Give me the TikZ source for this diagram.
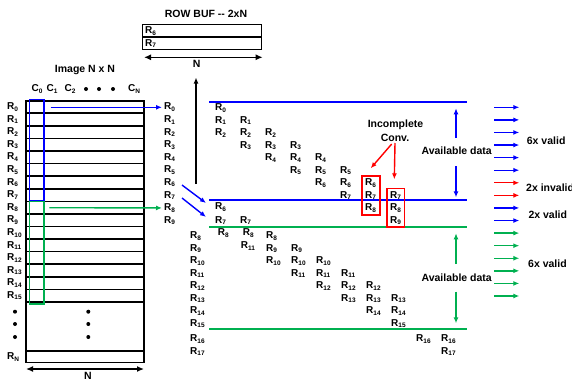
\documentclass[tikz,border=0pt]{standalone}
\usepackage{fontspec}
\setmainfont{Liberation Sans}
\usetikzlibrary{arrows.meta}
\definecolor{myblue}{RGB}{0,0,255}
\definecolor{mygreen}{RGB}{0,176,80}
\definecolor{myred}{RGB}{255,0,0}
\newcommand\RR[1]{R\raisebox{-1.6pt}{\fontsize{6.5}{6.5}\selectfont #1}}
\begin{document}
\begin{tikzpicture}[x=1pt,y=-1pt,font=\fontsize{10}{12}\selectfont\bfseries,
  lab/.style={anchor=west,inner sep=0pt},
  txt/.style={inner sep=0pt,font=\fontsize{10.5}{12}\selectfont\bfseries},
  tip/.style={-{Latex[length=6pt,width=5pt]}},
  dbl/.style={{Latex[length=7pt,width=6pt]}-{Latex[length=7pt,width=6pt]}},
  gridline/.style={line width=1.6pt},
  colline/.style={line width=2pt},
  dotm/.style={circle,fill=black,inner sep=0pt,minimum size=4pt}]
\useasboundingbox (0,0) rectangle (572,380);
% --- image grid
\draw[gridline] (26,100.7) rectangle (144,362.3);
\foreach \k in {1,...,16} \draw[gridline] (26,{100.7+12.58*\k}) -- (144,{100.7+12.58*\k});
\draw[gridline] (26,350.7) -- (144,350.7);
\foreach \k in {0,...,15} \node[lab] (L\k) at (7,{100.7+12.58*(\k+0.5)}) {\RR{\k}};
\node[lab] (LN) at (7,357) {\RR{N}};
\foreach \y [count=\i] in {311.7,324,337} {
  \node[dotm] (dl\i) at (15,\y) {};
  \node[dotm] (dm\i) at (88.3,\y) {};
}
\node[txt] (imgt) at (85,70) {Image N x N};
\node (c0) at (37,89) {C\raisebox{-1.6pt}{\fontsize{6.5}{6.5}\selectfont 0}};
\node (c1) at (52,89) {C\raisebox{-1.6pt}{\fontsize{6.5}{6.5}\selectfont 1}};
\node (c2) at (70,89) {C\raisebox{-1.6pt}{\fontsize{6.5}{6.5}\selectfont 2}};
\node[dotm] (cd1) at (86,89) {};
\node[dotm] (cd2) at (99,89) {};
\node[dotm] (cd3) at (113,89) {};
\node (cn) at (134,89) {C\raisebox{-1.6pt}{\fontsize{6.5}{6.5}\selectfont N}};
\draw[myblue,line width=1.6pt] (29.3,99.3) rectangle (43.7,200.5);
\draw[mygreen,line width=1.6pt] (29.3,201.5) rectangle (43.7,304);
% N arrow under image
\coordinate (ia) at (26,369);
\coordinate (ib) at (144,369);
\draw[dbl,line width=1.3pt] (ia) -- (ib);
\node[txt] (in) at (88,375.5) {N};
% --- right label column
\foreach \k in {0,...,9} \node[lab] (M\k) at (164,{107.3+12.58*\k}) {\RR{\k}};
\coordinate (bs) at (50.7,107.3);
\coordinate (gs) at (49.3,207.7);
\draw[tip,myblue,line width=1.4pt] (bs) -- ([xshift=-2pt]M0.west);
\draw[tip,mygreen,line width=1.4pt] (gs) -- ([xshift=-2pt]M8.west);
% --- row buffer
\node[txt] (buft) at (206,14) {ROW BUF {-}{-} 2xN};
\draw[line width=1.4pt] (142.7,24.3) rectangle (261.7,49.3);
\draw[line width=1.4pt] (142.7,37) -- (261.7,37);
\node[lab] (b6) at (145,31) {\RR{6}};
\node[lab] (b7) at (145,43.5) {\RR{7}};
\coordinate (ba) at (144,57.3);
\coordinate (bb) at (262.7,57.3);
\draw[dbl,line width=1.3pt] (ba) -- (bb);
\node[txt] (bn) at (196.7,64) {N};
\coordinate (vs) at (196,184);
\coordinate (ve) at (196,77.5);
\draw[tip,line width=1.6pt] (vs) -- (ve);
% --- diagonal arrows
\coordinate (d1s) at (182,185);
\coordinate (d1e) at (206,203);
\coordinate (d2s) at (182,198);
\coordinate (d2e) at (206,217);
\draw[tip,myblue,line width=1.4pt] (d1s) -- (d1e);
\draw[tip,myblue,line width=1.4pt] (d2s) -- (d2e);
% --- horizontal lines
\coordinate (h1a) at (209.3,101.7); \coordinate (h1b) at (467.3,101.7);
\coordinate (h2a) at (209.3,200); \coordinate (h2b) at (467.3,200);
\coordinate (h3a) at (209.3,226.7); \coordinate (h3b) at (467.3,226.7);
\coordinate (h4a) at (209.3,329.3); \coordinate (h4b) at (467.3,329.3);
\draw[colline,myblue] (h1a) -- (h1b);
\draw[colline,myblue] (h2a) -- (h2b);
\draw[colline,mygreen] (h3a) -- (h3b);
\draw[colline,mygreen] (h4a) -- (h4b);
% --- top triangle
\foreach \c in {1,...,8} {
  \foreach \d in {-1,0,1} {
    \pgfmathtruncatemacro{\r}{\c+\d}
    \node[lab] (T\c-\r) at ({215+25*(\c-1)},{108+12.5*\r}) {\RR{\r}};
  }
}
\draw[myred,line width=1.6pt] (361.7,176) rectangle (380,215);
\draw[myred,line width=1.6pt] (386.7,188.3) rectangle (404.3,226.7);
\node[lab] (x6) at (215,207) {\RR{6}};
\node[lab] (x7) at (215,220.7) {\RR{7}};
\node[lab] (x7b) at (240,220.7) {\RR{7}};
% --- second triangle
\foreach \r in {8,...,15} \node[lab] (S0-\r) at (190,{236+12.5*(\r-8)}) {\RR{\r}};
\node[lab] (S0-16) at (190,339) {\RR{16}};
\node[lab] (S0-17) at (190,351.5) {\RR{17}};
\node[lab] (y8a) at (217.7,233.3) {\RR{8}};
\node[lab] (y8b) at (242.7,233.3) {\RR{8}};
\node[lab] (y11) at (240.7,246) {\RR{11}};
\foreach \c in {3,...,8} {
  \foreach \d in {5,6,7} {
    \pgfmathtruncatemacro{\r}{\c+\d}
    \node[lab] (S\c-\r) at ({266+25*(\c-3)},{236+12.5*(\r-8)}) {\RR{\r}};
  }
}
\node[lab] (S9-16) at (416,339) {\RR{16}};
\node[lab] (S10-16) at (441,339) {\RR{16}};
\node[lab] (S10-17) at (441,351.5) {\RR{17}};
% --- incomplete conv
\node[txt] (inc) at (395.5,125) {Incomplete};
\node[txt] (conv) at (395,138.3) {Conv.};
\coordinate (r1s) at (391.7,144);
\coordinate (r2s) at (395,143);
\coordinate (r1e) at (370.7,168.3);
\coordinate (r2e) at (394.3,179.3);
\draw[tip,myred,line width=1.4pt] (r1s) -- (r1e);
\draw[tip,myred,line width=1.4pt] (r2s) -- (r2e);
% --- available data
\node[txt] (av1) at (456.7,151) {Available data};
\node[txt] (av2) at (456.7,277.3) {Available data};
\coordinate (a1t) at (456,108.3); \coordinate (a1b) at (456,197.3);
\coordinate (a2t) at (456,233.3); \coordinate (a2b) at (456,323.3);
\coordinate (a1m) at (456,138); \coordinate (a1n) at (456,166);
\coordinate (a2m) at (456,264); \coordinate (a2n) at (456,291.7);
\draw[tip,myblue,line width=1.4pt] (a1m) -- (a1t);
\draw[tip,myblue,line width=1.4pt] (a1n) -- (a1b);
\draw[tip,mygreen,line width=1.4pt] (a2m) -- (a2t);
\draw[tip,mygreen,line width=1.4pt] (a2n) -- (a2b);
% --- output arrows
\foreach \k/\col in {0/myblue,1/myblue,2/myblue,3/myblue,4/myblue,5/myblue,6/myred,7/myred,8/myblue,9/myblue,10/mygreen,11/mygreen,12/mygreen,13/mygreen,14/mygreen,15/mygreen} {
  \coordinate (oa\k) at (494.3,{107.3+12.58*\k});
  \coordinate (ob\k) at (519.3,{107.3+12.58*\k});
  \draw[tip,\col,line width=1.4pt] (oa\k) -- (ob\k);
}
\node[txt,anchor=west] (v1) at (526.7,141) {6x valid};
\node[txt,anchor=west] (v2) at (526,187.7) {2x invalid};
\node[txt,anchor=west] (v3) at (528.3,214.3) {2x valid};
\node[txt,anchor=west] (v4) at (528,264) {6x valid};
\end{tikzpicture}
\end{document}
